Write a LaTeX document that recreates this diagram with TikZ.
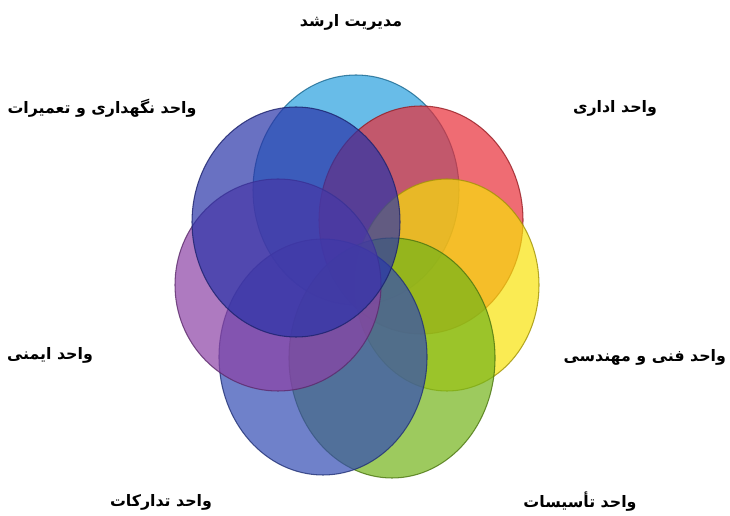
\documentclass[tikz,border=0pt]{standalone}
\usepackage{fontspec}
\newfontfamily\arabicfont[Script=Arabic]{DejaVu Sans}
\TeXXeTstate=1
\usepackage{tikz}
\definecolor{cSky}{RGB}{40,160,222}
\definecolor{cRed}{RGB}{232,45,55}
\definecolor{cYel}{RGB}{248,226,10}
\definecolor{cGrn}{RGB}{115,180,25}
\definecolor{cBlu}{RGB}{50,75,180}
\definecolor{cPur}{RGB}{140,65,165}
\definecolor{cInd}{RGB}{42,52,168}
\tikzset{
  ring/.style={fill=#1, fill opacity=0.7, draw=#1!65!black, draw opacity=0.8, line width=0.6pt},
  lbl/.style={font=\arabicfont\bfseries\fontsize{9}{11}\selectfont, inner sep=1pt},
}

\begin{document}
\begin{tikzpicture}[x=0.02cm,y=-0.02cm]
\useasboundingbox (0,0) rectangle (730,516);
\coordinate (sky) at (356,190);
\coordinate (red) at (421,220);
\coordinate (yel) at (447,285);
\coordinate (grn) at (392,358);
\coordinate (blu) at (323,357);
\coordinate (pur) at (278,285);
\coordinate (ind) at (296,222);
\draw[ring=cSky] (sky) ellipse [x radius=103, y radius=115];
\draw[ring=cRed] (red) ellipse [x radius=102, y radius=114];
\draw[ring=cYel] (yel) ellipse [x radius=92, y radius=106];
\draw[ring=cGrn] (grn) ellipse [x radius=103, y radius=120];
\draw[ring=cBlu] (blu) ellipse [x radius=104, y radius=118];
\draw[ring=cPur] (pur) ellipse [x radius=103, y radius=106];
\draw[ring=cInd] (ind) ellipse [x radius=104, y radius=115];
\node[lbl] (mgmt) at (351,22) {\beginR مدیریت ارشد\endR};
\node[lbl] (maint) at (102,108) {\beginR واحد نگهداری و تعمیرات\endR};
\node[lbl] (admin) at (615,108) {\beginR واحد اداری\endR};
\node[lbl] (safety) at (50,355) {\beginR واحد ایمنی\endR};
\node[lbl, anchor=east] (tech) at (728,357) {\beginR واحد فنی و مهندسی\endR};
\node[lbl] (supply) at (161,502) {\beginR واحد تدارکات\endR};
\node[lbl] (facil) at (580,502) {\beginR واحد تأسیسات\endR};
\end{tikzpicture}
\end{document}
